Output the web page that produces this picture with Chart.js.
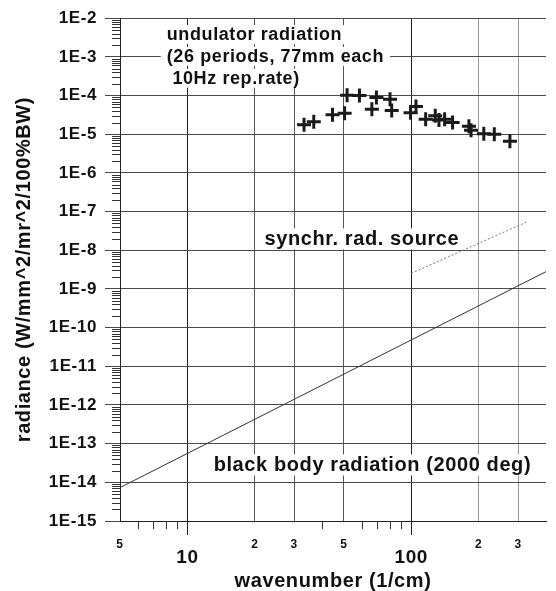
<!DOCTYPE html>
<html>
<head>
<meta charset="utf-8">
<script src="https://cdn.jsdelivr.net/npm/chart.js@4.4.1/dist/chart.umd.min.js"></script>
<style>
  html, body { margin: 0; padding: 0; background: #fff; }
  #wrap { width: 556px; height: 591px; }
</style>
</head>
<body>
<div id="wrap"><canvas id="radianceChart"></canvas></div>
<script>
// --- data ---
const undulatorX = [33.2, 36.7, 44.5, 50.4, 51.7, 58.7, 66.7, 69.9, 80.4, 81.8, 99.3, 105, 116, 128, 133, 141, 153, 181, 185, 211, 235, 276];
const undulatorY = [1.75e-5, 2.1e-5, 3.2e-5, 3.5e-5, 1.02e-4, 1.0e-4, 4.4e-5, 8.9e-5, 8.0e-5, 4.1e-5, 3.6e-5, 5.2e-5, 2.45e-5, 3.0e-5, 2.35e-5, 2.45e-5, 2.0e-5, 1.6e-5, 1.26e-5, 1.03e-5, 1.0e-5, 6.6e-6];
const synchrotronX = [100, 327];
const synchrotronY = [2.54e-9, 5.35e-8];
const blackBodyX = [5, 400];
const blackBodyY = [7.3e-15, 2.8e-9];

// axis ticks
const xTickValues = [5, 10, 20, 30, 50, 100, 200, 300];
const xTickLabels = ['5', ['', '10'], '2', '3', '5', ['', '100'], '2', '3'];
const xMinorTicks = [6, 7, 8, 9, 40, 60, 70, 80, 90];
const yTickExponents = [-15, -14, -13, -12, -11, -10, -9, -8, -7, -6, -5, -4, -3, -2];

const toPoints = (xs, ys) => xs.map((x, i) => ({ x: x, y: ys[i] }));
const isMajorX = v => v === 10 || v === 100;
const FONT = '"Liberation Sans", Arial, sans-serif';

// minor ticks + text notes drawn over the grid
const extrasPlugin = {
    id: 'extras',
    beforeDraw(chart) {
        chart.ctx.letterSpacing = '0.6px';
    },
    beforeDatasetsDraw(chart, args, opts) {
        const { ctx, chartArea } = chart;
        const x = chart.scales.x, y = chart.scales.y;
        ctx.save();
        ctx.strokeStyle = '#333';
        ctx.lineWidth = 1;
        ctx.beginPath();
        for (let i = 0; i < yTickExponents.length - 1; i++) {
            for (let m = 2; m <= 9; m++) {
                const py = Math.round(y.getPixelForValue(m * Math.pow(10, yTickExponents[i]))) + 0.5;
                ctx.moveTo(chartArea.left - 8, py);
                ctx.lineTo(chartArea.left, py);
            }
        }
        xMinorTicks.forEach(v => {
            const px = Math.round(x.getPixelForValue(v)) + 0.5;
            ctx.moveTo(px, chartArea.bottom);
            ctx.lineTo(px, chartArea.bottom + 8);
        });
        ctx.stroke();

        // notes (white box behind, like the original)
        ctx.textBaseline = 'middle';
        ctx.textAlign = 'left';
        opts.notes.forEach(n => {
            ctx.font = 'bold ' + n.size + 'px ' + FONT;
            const px = x.getPixelForValue(n.x);
            const py = y.getPixelForValue(n.y);
            const w = ctx.measureText(n.text).width;
            ctx.fillStyle = '#fff';
            ctx.fillRect(px - 6, py - n.size * 0.55, w + 12, n.size * 1.05);
            ctx.fillStyle = '#111';
            ctx.fillText(n.text, px, py);
        });
        ctx.restore();
    }
};

const ctx = document.getElementById('radianceChart').getContext('2d');
new Chart(ctx, {
    type: 'scatter',
    data: {
        datasets: [
            {
                label: 'undulator radiation',
                data: toPoints(undulatorX, undulatorY),
                pointStyle: 'cross',
                pointRadius: 7,
                borderWidth: 3,
                borderColor: '#1a1a1a',
                backgroundColor: '#1a1a1a'
            },
            {
                label: 'synchr. rad. source',
                data: toPoints(synchrotronX, synchrotronY),
                showLine: true,
                pointRadius: 0,
                borderWidth: 1,
                borderDash: [2, 2],
                borderColor: '#777'
            },
            {
                label: 'black body radiation',
                data: toPoints(blackBodyX, blackBodyY),
                showLine: true,
                pointRadius: 0,
                borderWidth: 1,
                borderColor: '#333'
            }
        ]
    },
    options: {
        responsive: true,
        maintainAspectRatio: false,
        animation: false,
        layout: { padding: { top: 14, right: 0, bottom: 0, left: 0 } },
        scales: {
            x: {
                type: 'logarithmic',
                min: 5,
                max: 400,
                afterBuildTicks: scale => { scale.ticks = xTickValues.map(v => ({ value: v })); },
                afterFit: scale => { scale.height = 70; },
                grid: {
                    color: c => {
                        const v = c.tick ? c.tick.value : 0;
                        if (isMajorX(v)) return '#222';
                        if (v >= 200) return '#999';
                        return '#555';
                    },
                    tickColor: c => (c.tick && isMajorX(c.tick.value)) ? '#222' : 'rgba(0,0,0,0)',
                    tickLength: 14
                },
                border: { color: '#222' },
                ticks: {
                    autoSkip: false,
                    maxRotation: 0,
                    minRotation: 0,
                    padding: 4,
                    color: '#111',
                    font: c => (c.tick && isMajorX(c.tick.value))
                        ? { family: FONT, size: 19, weight: 'bold', lineHeight: 0.66 }
                        : { family: FONT, size: 12, weight: 'bold', lineHeight: 1 },
                    callback: (value, index) => xTickLabels[index]
                },
                title: {
                    display: true,
                    text: 'wavenumber (1/cm)',
                    color: '#111',
                    padding: { top: 0, bottom: 0 },
                    font: { family: FONT, size: 20, weight: 'bold', lineHeight: 1 }
                }
            },
            y: {
                type: 'logarithmic',
                min: 1e-15,
                max: 1e-2,
                afterBuildTicks: scale => { scale.ticks = yTickExponents.map(e => ({ value: Math.pow(10, e) })); },
                afterFit: scale => { scale.width = 120; },
                grid: { color: '#4a4a4a', tickColor: '#4a4a4a', tickLength: 15 },
                border: { color: '#222' },
                ticks: {
                    padding: 8,
                    color: '#111',
                    font: { family: FONT, size: 17, weight: 'bold' },
                    callback: value => '1E' + Math.round(Math.log10(value))
                },
                title: {
                    display: true,
                    text: 'radiance (W/mm^2/mr^2/100%BW)',
                    color: '#111',
                    padding: { top: 14, bottom: 0 },
                    font: { family: FONT, size: 20, weight: 'bold', lineHeight: 1 }
                }
            }
        },
        plugins: {
            legend: { display: false },
            tooltip: { enabled: false },
            extras: {
                notes: [
                    { text: 'undulator radiation', x: 8.09, y: 3.66e-3, size: 18 },
                    { text: '(26 periods, 77mm each', x: 8.09, y: 1.0e-3, size: 18 },
                    { text: ' 10Hz rep.rate)', x: 8.09, y: 2.73e-4, size: 18 },
                    { text: 'synchr. rad. source', x: 22.1, y: 1.91e-8, size: 20 },
                    { text: 'black body radiation (2000 deg)', x: 13.1, y: 2.73e-14, size: 20 }
                ]
            }
        }
    },
    plugins: [extrasPlugin]
});
</script>
</body>
</html>
